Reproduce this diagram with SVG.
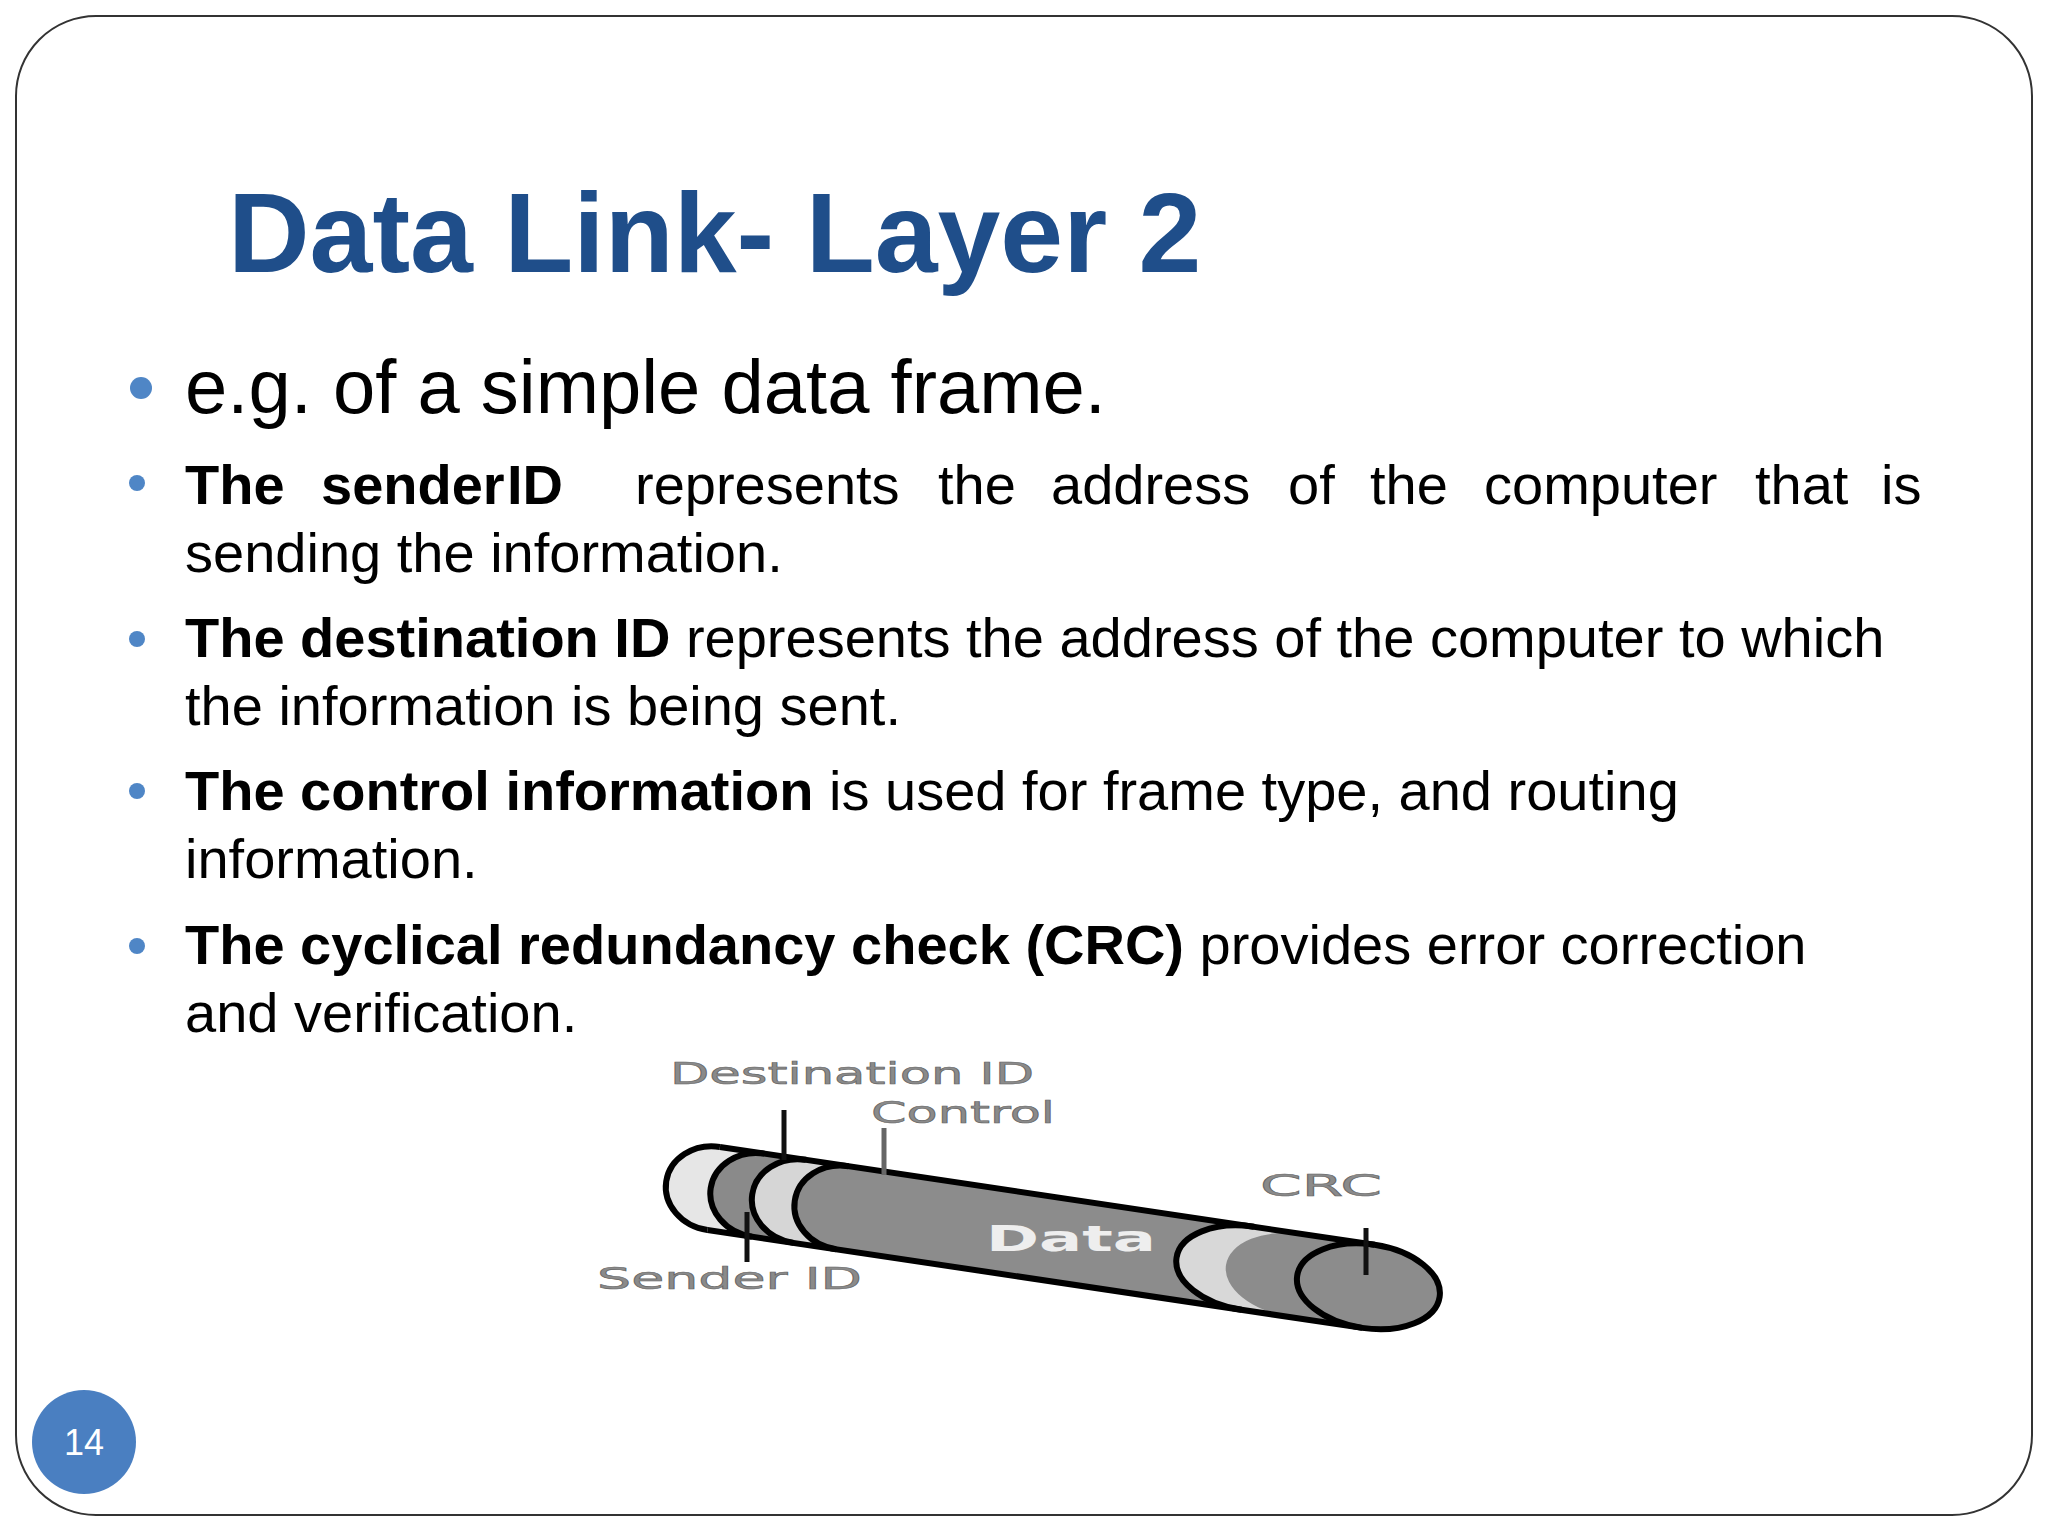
<svg xmlns="http://www.w3.org/2000/svg" width="2048" height="1536" viewBox="0 0 2048 1536">
<style>
.t{font-family:"Liberation Sans",Arial,sans-serif;fill:#000}
.b{font-weight:bold}
.lbl{font-family:"DejaVu Sans",sans-serif;fill:#8a8a8a;font-size:30px;stroke:#666;stroke-width:0.6}
.ln{stroke:#111;stroke-width:5}
.cy{stroke:#000;stroke-width:6}
</style>
<rect width="2048" height="1536" fill="#fff"/>
<rect x="16" y="16" width="2016" height="1499" rx="80" fill="#fff" stroke="#333" stroke-width="2"/>
<g id="title"><text x="228" y="272" class="t b" font-size="113" style="fill:#1f4e8a">Data Link- Layer 2</text></g>
<g id="bullets" fill="#4f86c6">
<circle cx="141" cy="388" r="11"/>
<circle cx="137" cy="483" r="8"/>
<circle cx="137" cy="639" r="8"/>
<circle cx="137" cy="791" r="8"/>
<circle cx="137" cy="946" r="8"/>
</g>
<g id="text" font-size="56">
<text class="t" x="185" y="413" font-size="76">e.g. of a simple data frame.</text>
<text class="t" y="504"><tspan class="b" x="185">The</tspan><tspan class="b" x="321">sender</tspan><tspan class="b" x="507">ID</tspan><tspan x="635">represents</tspan><tspan x="938">the</tspan><tspan x="1051">address</tspan><tspan x="1288">of</tspan><tspan x="1370">the</tspan><tspan x="1484">computer</tspan><tspan x="1755">that</tspan><tspan x="1881">is</tspan></text>
<text class="t" x="185" y="572">sending the information.</text>
<text class="t" x="185" y="657"><tspan class="b">The destination ID</tspan> represents the address of the computer to which</text>
<text class="t" x="185" y="725">the information is being sent.</text>
<text class="t" x="185" y="810"><tspan class="b">The control information</tspan> is used for frame type, and routing</text>
<text class="t" x="185" y="878">information.</text>
<text class="t" x="185" y="964"><tspan class="b">The cyclical redundancy check (CRC)</tspan> provides error correction</text>
<text class="t" x="185" y="1032">and verification.</text>
</g>
<g id="frame">
<g transform="translate(1045,1238) rotate(8.5)">
<rect x="-335" y="-42" width="665" height="84" fill="#8c8c8c"/>
<path d="M-335,-42 A48,42 0 0 0 -335,42 L-290,42 A48,42 0 0 1 -290,-42 Z" fill="#e6e6e6"/>
<path d="M-290,-42 A48,42 0 0 0 -290,42 L-248,42 A48,42 0 0 1 -248,-42 Z" fill="#8a8a8a"/>
<path d="M-248,-42 A48,42 0 0 0 -248,42 L-205,42 A48,42 0 0 1 -205,-42 Z" fill="#d6d6d6"/>
<path d="M205,-42 A72,42 0 0 0 205,42 L255,42 A72,42 0 0 1 255,-42 Z" fill="#d8d8d8"/>
<ellipse cx="327" cy="0" rx="72" ry="42" fill="#8c8c8c" class="cy"/>
<line x1="-335" y1="-42" x2="327" y2="-42" class="cy"/>
<line x1="-335" y1="42" x2="327" y2="42" class="cy"/>
<path d="M-335,-42 A48,42 0 0 0 -335,42" fill="none" class="cy"/>
<path d="M-290,-42 A48,42 0 0 0 -290,42" fill="none" class="cy"/>
<path d="M-248,-42 A48,42 0 0 0 -248,42" fill="none" class="cy"/>
<path d="M-205,-42 A48,42 0 0 0 -205,42" fill="none" class="cy"/>
<path d="M205,-42 A72,42 0 0 0 205,42" fill="none" class="cy"/>
</g>
<text x="986" y="1251" font-family="DejaVu Sans,sans-serif" font-weight="bold" font-size="36" fill="#eee" textLength="170" lengthAdjust="spacingAndGlyphs">Data</text>
</g>
<g id="connectors">
<line x1="784" y1="1110" x2="784" y2="1160" class="ln"/>
<line x1="884" y1="1128" x2="884" y2="1175" class="ln" style="stroke:#666"/>
<line x1="747" y1="1212" x2="747" y2="1262" class="ln"/>
<line x1="1366" y1="1228" x2="1366" y2="1275" class="ln"/>
</g>
<g id="labels">
<text class="lbl" x="670" y="1084" textLength="364" lengthAdjust="spacingAndGlyphs">Destination ID</text>
<text class="lbl" x="871" y="1123" textLength="184" lengthAdjust="spacingAndGlyphs">Control</text>
<text class="lbl" x="1260" y="1196" textLength="122" lengthAdjust="spacingAndGlyphs">CRC</text>
<text class="lbl" x="597" y="1289" textLength="265" lengthAdjust="spacingAndGlyphs">Sender ID</text>
</g>
<g id="page"><circle cx="84" cy="1442" r="52" fill="#4a7fc1"/><text x="84" y="1455" text-anchor="middle" font-family="Liberation Sans,sans-serif" font-size="36" fill="#fff">14</text></g>
</svg>
